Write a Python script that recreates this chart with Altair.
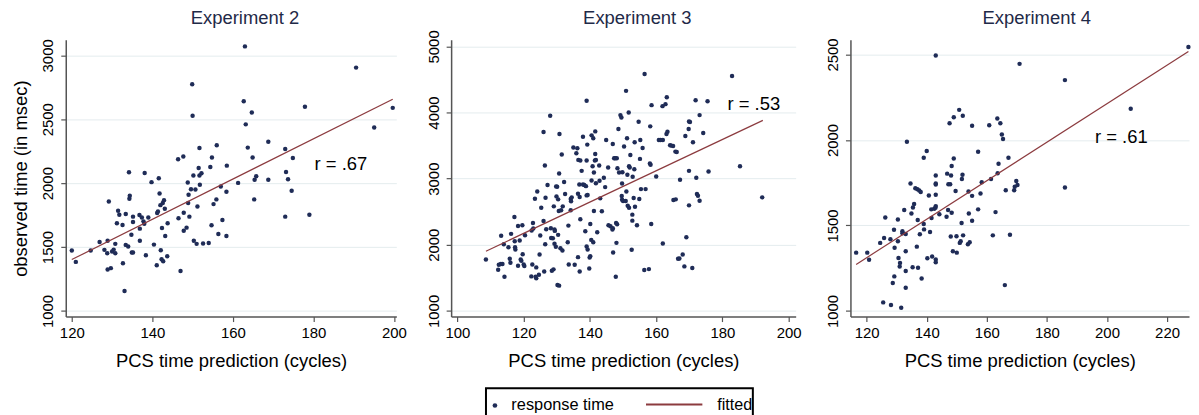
import altair as alt
import pandas as pd

FONT = "Liberation Sans"
NAVY = "#1f2c57"
MAROON = "#8c3b3f"
TITLE_COLOR = "#1f2a48"

# ---------------- Experiment 2 ----------------
exp2_x = [120.0, 121.0, 124.7, 126.9, 128.1, 128.8, 128.9, 129.2, 128.9, 129.7, 130.0, 130.4, 130.8, 130.8,
          131.2, 131.5, 131.8, 132.6, 132.7, 133.1, 133.4, 133.4, 134.0, 134.2, 134.3, 134.4, 134.8, 134.9,
          135.2, 135.2, 135.2, 136.8, 136.9, 136.9, 137.4, 137.8, 138.0, 138.1, 138.4, 139.0, 139.8, 140.4,
          141.1, 141.2, 141.4, 141.6, 141.8, 142.0, 142.1, 142.3, 142.4, 142.6, 142.7, 142.9, 143.1, 143.2,
          143.7, 143.8, 146.4, 146.5, 147.0, 147.7, 147.8, 147.8, 148.5, 148.8, 148.9, 149.0, 149.2, 149.6,
          149.9, 150.0, 150.2, 150.3, 150.7, 151.0, 151.2, 151.5, 151.7, 151.7, 151.8, 152.2, 152.6, 154.0,
          154.4, 154.7, 154.8, 155.2, 155.9, 156.0, 156.4, 157.0, 157.4, 158.4, 158.5, 158.4, 161.3, 162.7,
          163.0, 163.2, 163.7, 164.7, 164.9, 165.3, 165.4, 165.8, 168.8, 168.8, 173.0, 173.0, 173.2, 173.7,
          174.6, 174.9, 177.9, 179.0, 190.6, 195.1, 199.7]
exp2_y = [1473, 1384, 1473, 1540, 1478, 1452, 1550, 1857, 1325, 1335, 1465, 1480, 1525, 1452,
          1686, 1784, 1753, 1673, 1374, 1156, 1758, 1517, 1504, 2086, 1878, 1901, 1597, 1457,
          1457, 1738, 1696, 1750, 1644, 1550, 1732, 1701, 1683, 2080, 1436, 1732, 2008, 1519,
          1358, 1766, 1779, 2039, 1919, 1828, 1475, 1405, 1649, 1844, 1389, 1867, 1800, 1587,
          1428, 1686, 2187, 1725, 1312, 2208, 1769, 1628, 1652, 2005, 1844, 1909, 1738, 1953,
          2774, 2527, 2060, 1550, 1950, 1525, 1818, 2119, 2275, 2060, 1987, 2078, 1527, 1532,
          2127, 1670, 2200, 1836, 1873, 2296, 1602, 1974, 1712, 1932, 2137, 1587, 2002, 2641,
          3070, 2460, 2278, 2553, 2200, 1873, 2026, 2054, 2324, 2026, 2267, 1738, 2088, 2031,
          1940, 2197, 2597, 1753, 2904, 2436, 2589]
fit2_x = [120.0, 199.7]
fit2_y = [1402, 2657]

# ---------------- Experiment 3 ----------------
exp3_x = [108.6, 112.3, 112.5, 113.1, 113.6, 113.2, 114.2, 114.0, 115.4, 115.8, 116.0, 116.2, 117.2, 117.3,
          117.4, 117.5, 118.3, 118.3, 118.8, 119.1, 119.3, 119.6, 119.7, 120.0, 120.2, 120.4, 122.3, 122.4,
          122.8, 122.6, 122.9, 123.6, 123.8, 123.4, 123.8, 124.1, 124.6, 124.8, 125.0, 125.3, 126.0, 126.0,
          126.2, 126.4, 126.6, 126.5, 126.8, 127.2, 128.0, 128.2, 128.3, 128.8, 128.5, 129.0, 129.1, 129.3,
          129.3, 129.7, 129.4, 129.8, 129.9, 130.1, 130.2, 130.4, 130.4, 130.6, 130.7, 130.8, 130.7, 131.1,
          131.3, 131.5, 131.7, 131.8, 132.2, 132.5, 133.3, 133.5, 133.6, 134.2, 134.2, 134.5, 134.3, 135.0,
          135.4, 135.9, 136.2, 136.4, 136.8, 136.4, 136.5, 136.9, 136.9, 137.1, 137.1, 137.5, 137.9, 137.9,
          138.3, 138.6, 138.8, 139.0, 139.3, 139.0, 139.3, 139.0, 139.0, 139.2, 139.8, 139.9, 140.1, 140.1,
          140.4, 140.5, 140.5, 140.8, 141.0, 141.0, 141.2, 141.2, 141.6, 141.6, 141.5, 141.8, 141.8, 142.2,
          142.8, 143.1, 142.9, 143.6, 144.2, 144.6, 144.9, 145.5, 145.6, 146.2, 146.8, 146.9, 146.9, 147.0,
          147.3, 147.6, 147.9, 148.2, 148.0, 147.8, 148.1, 148.3, 148.6, 148.8, 149.2, 149.5, 149.6, 149.7,
          149.7, 150.0, 149.8, 150.3, 150.8, 150.9, 151.0, 151.2, 151.3, 151.4, 151.7, 151.8, 151.8, 152.0,
          152.2, 152.6, 152.8, 152.8, 152.9, 153.2, 153.4, 153.5, 153.6, 154.2, 154.7, 154.9, 155.1, 155.2,
          155.4, 155.9, 156.4, 156.5, 156.8, 157.8, 158.1, 158.3, 158.2, 158.5, 158.6, 160.0, 160.8, 161.3,
          162.0, 161.9, 162.0, 162.8, 163.1, 163.2, 163.4, 164.2, 164.6, 165.1, 165.2, 165.9, 165.8, 166.2,
          166.6, 167.0, 167.2, 168.0, 168.5, 168.8, 169.1, 169.8, 169.9, 170.2, 169.9, 169.9, 170.9, 171.1,
          171.9, 172.1, 172.3, 172.6, 173.1, 173.1, 174.2, 175.5, 175.8, 182.9, 185.3, 192.0]
exp3_y = [1778, 1622, 1698, 1708, 1708, 2135, 1517, 2009, 1964, 1788, 1728, 2165, 2421, 2054,
          1964, 1929, 1683, 2285, 2064, 1778, 1758, 2295, 1858, 1703, 1678, 2145, 1522, 2215,
          2330, 1703, 2245, 1517, 1492, 2697, 1658, 2807, 1547, 1853, 2140, 2561, 2360, 3706,
          1597, 3199, 2712, 2009, 2235, 2903, 3952, 2250, 2104, 2099, 1607, 1628, 2581, 2230,
          2014, 1969, 2210, 2883, 2732, 2878, 1392, 2150, 2687, 2511, 3078, 3676, 1382, 1949,
          2521, 3364, 1914, 2581, 2948, 2767, 2039, 2290, 1703, 2521, 2692, 2717, 2657, 3470,
          1698, 3384, 3460, 2772, 2913, 1813, 3284, 2722, 1597, 2386, 3274, 3118, 3635, 2913,
          2903, 2205, 2887, 1974, 1929, 2747, 2752, 3274, 4177, 3515, 1642, 1808, 1828, 2315,
          2074, 3655, 2973, 3189, 2039, 3610, 2511, 3093, 3715, 3374, 3274, 3284, 2932, 2190,
          3198, 2702, 2968, 2506, 3013, 2872, 3585, 3168, 2295, 2280, 2230, 2250, 3525, 1883,
          3309, 3309, 2330, 2310, 2029, 1517, 3309, 3158, 3751, 3093, 3961, 3926, 2737, 2682,
          2927, 2661, 3098, 3485, 2661, 4328, 2807, 3610, 3058, 2591, 4001, 2561, 3188, 3168,
          3359, 1924, 2365, 2456, 3028, 2707, 3143, 3550, 2576, 2295, 3861, 2692, 3299, 3585,
          2842, 3464, 1617, 4584, 2842, 1632, 3229, 3209, 3791, 2315, 4112, 3033, 3585, 3585,
          3585, 4097, 2019, 4127, 3675, 4232, 3711, 3505, 3500, 3495, 2676, 2687, 3409, 3404,
          1788, 1793, 2983, 1853, 1673, 3645, 2114, 3751, 3866, 3856, 3118, 2596, 1650, 3550,
          4187, 3013, 2767, 2742, 3961, 2667, 3690, 4172, 3108, 4554, 3188, 2717]
fit3_x = [108.6, 192.2]
fit3_y = [1903, 3881]

# ---------------- Experiment 4 ----------------
exp4_x = [116.5, 120.2, 120.8, 124.5, 125.8, 125.5, 126.2, 127.9, 128.1, 128.7, 129.1, 129.2, 129.3, 130.4,
          130.4, 130.6, 131.0, 131.1, 131.5, 131.9, 131.9, 132.5, 133.0, 133.0, 133.0, 133.0, 133.4, 134.6,
          134.9, 135.3, 135.4, 135.8, 136.2, 136.7, 136.9, 137.0, 137.1, 137.5, 137.7, 138.0, 138.3, 139.0,
          139.0, 139.1, 140.7, 140.0, 140.2, 141.1, 141.5, 141.6, 141.8, 142.5, 142.9, 143.0, 143.0, 143.0,
          143.0, 143.0, 143.0, 143.0, 143.0, 144.2, 146.6, 146.8, 147.1, 147.2, 147.6, 147.8, 148.0, 148.1,
          148.3, 148.3, 148.7, 149.0, 149.0, 149.6, 149.9, 150.0, 150.8, 151.0, 151.3, 151.6, 151.7, 151.9,
          152.0, 152.1, 153.7, 153.9, 154.0, 154.3, 155.1, 155.1, 155.1, 157.1, 157.1, 157.9, 158.3, 160.8,
          161.4, 162.0, 162.9, 163.5, 163.6, 163.9, 164.5, 165.0, 165.4, 166.0, 166.3, 167.2, 167.7, 169.1,
          169.3, 169.8, 170.2, 170.9, 186.0, 186.0, 207.9, 227.1]
exp4_y = [1341, 1341, 1299, 1398, 1427, 1050, 1547, 1419, 1035, 1163, 1475, 1202, 1369, 1535,
          1407, 1310, 1260, 1281, 1019, 1466, 1454, 1590, 1450, 1349, 1233, 1136, 1990, 1745,
          1570, 1256, 1605, 1625, 1718, 1376, 1712, 1532, 1252, 1704, 1448, 1696, 1190, 1896,
          1508, 1477, 1675, 1935, 1308, 1462, 1594, 1543, 1318, 1598, 1603, 1792, 1745, 1739,
          1679, 1613, 2494, 1301, 1285, 1566, 1551, 1803, 1590, 1741, 2098, 1741, 1435, 1792,
          1848, 1574, 1349, 2133, 1892, 1702, 1437, 1341, 2176, 1398, 1407, 1514, 1772, 1797,
          2141, 1442, 1390, 1698, 1570, 1402, 2083, 1673, 1528, 1594, 1931, 1687, 1753, 2086,
          1772, 1442, 1578, 2125, 1805, 1861, 2098, 2032, 2005, 1151, 1706, 1896, 1446, 1706,
          1726, 1760, 1737, 2445, 2350, 1722, 2183, 2544]
fit4_x = [116.5, 227.1]
fit4_y = [1272, 2517]

# ---------------- labels ----------------
panel_titles = ["Experiment 2", "Experiment 3", "Experiment 4"]
r_text = ["r = .67", "r = .53", "r = .61"]
r_x = [180.3, 181.5, 196.0]
r_y = [2148, 4127, 2019]
x_ticks = [[120, 140, 160, 180, 200], [100, 120, 140, 160, 180, 200], [120, 140, 160, 180, 200, 220]]
y_ticks = [[1000, 1500, 2000, 2500, 3000], [1000, 2000, 3000, 4000, 5000], [1000, 1500, 2000, 2500]]
x_domains = [[118.5, 200.6], [98.1, 202.1], [114.6, 227.3]]
y_domains = [[956, 3122], [914, 5101], [967, 2586]]
legend_labels = ["response time", "fitted"]
x_title = "PCS time prediction (cycles)"
y_title = "observed time (in msec)"

PANEL_W = [332, 346, 340]
PANEL_H = 278
TITLE_OFFSETS = [-4, -13, -5]
TITLE_DX = [14, 14, 17]


def panel(i, xs, ys, fx, fy, with_ytitle):
    pts = pd.DataFrame({"x": xs, "y": ys})
    fit = pd.DataFrame({"x": fx, "y": fy})
    lab = pd.DataFrame({"x": [r_x[i]], "y": [r_y[i]], "t": [r_text[i]]})
    xscale = alt.Scale(domain=x_domains[i], nice=False, zero=False)
    yscale = alt.Scale(domain=y_domains[i], nice=False, zero=False)
    xaxis = alt.Axis(values=x_ticks[i], format="d", title=x_title)
    if with_ytitle:
        yaxis = alt.Axis(values=y_ticks[i], format="d", title=y_title)
    else:
        yaxis = alt.Axis(values=y_ticks[i], format="d", title=None)

    points = alt.Chart(pts).mark_circle(size=20, color=NAVY, opacity=1).encode(
        x=alt.X("x:Q", scale=xscale, axis=xaxis),
        y=alt.Y("y:Q", scale=yscale, axis=yaxis),
    )
    line = alt.Chart(fit).mark_line(color=MAROON, strokeWidth=1.2).encode(
        x="x:Q", y="y:Q"
    )
    text = alt.Chart(lab).mark_text(
        align="left", baseline="middle", fontSize=18.5, font=FONT, color="black"
    ).encode(x="x:Q", y="y:Q", text="t:N")

    layers = [points, line, text]
    if i == 1:
        box = alt.Chart(pd.DataFrame({"k": [0]})).mark_rect(
            fill="white", stroke="black", strokeWidth=2
        ).encode(x=alt.value(35), x2=alt.value(303), y=alt.value(350), y2=alt.value(386))
        dot = alt.Chart(pd.DataFrame({"k": [0]})).mark_circle(
            size=22, color=NAVY, opacity=1
        ).encode(x=alt.value(44), y=alt.value(367.3))
        t1 = alt.Chart(pd.DataFrame({"t": [legend_labels[0]]})).mark_text(
            align="left", baseline="alphabetic", fontSize=16.4, font=FONT, color="black"
        ).encode(x=alt.value(60.5), y=alt.value(371.5), text="t:N")
        rule = alt.Chart(pd.DataFrame({"k": [0]})).mark_rule(
            color=MAROON, strokeWidth=2
        ).encode(x=alt.value(195.7), x2=alt.value(252.3), y=alt.value(366.3))
        t2 = alt.Chart(pd.DataFrame({"t": [legend_labels[1]]})).mark_text(
            align="left", baseline="alphabetic", fontSize=16.2, font=FONT, color="black"
        ).encode(x=alt.value(267.3), y=alt.value(371.5), text="t:N")
        layers += [box, dot, t1, rule, t2]

    return alt.layer(*layers).properties(
        width=PANEL_W[i],
        height=PANEL_H,
        title=alt.TitleParams(
            text=panel_titles[i], fontSize=18.5, font=FONT, fontWeight="normal",
            color=TITLE_COLOR, anchor="middle", frame="group", dx=TITLE_DX[i],
            baseline="alphabetic", offset=TITLE_OFFSETS[i],
        ),
    )


p1 = panel(0, exp2_x, exp2_y, fit2_x, fit2_y, True)
p2 = panel(1, exp3_x, exp3_y, fit3_x, fit3_y, False)
p3 = panel(2, exp4_x, exp4_y, fit4_x, fit4_y, False)

chart = alt.hconcat(p1, p2, p3, spacing=55, bounds="flush").properties(
    padding={"left": 4, "top": 0, "right": 0, "bottom": 0}
).configure_view(strokeWidth=0).configure_axis(
    labelFont=FONT, labelFontSize=15, labelColor="black",
    titleFont=FONT, titleFontSize=18.5, titleFontWeight="normal", titleColor="black",
    domainColor="#555555", domainWidth=1.5, tickColor="#555555", tickWidth=1.2, tickSize=5,
    gridColor="#e4ecee", gridWidth=1,
).configure_axisX(
    grid=False, labelPadding=4, titlePadding=11,
).configure_axisY(
    grid=True, labelAngle=270, labelAlign="center", labelBaseline="bottom",
    labelPadding=5, titlePadding=10,
)

chart.save("out.html", embed_options={"renderer": "svg", "actions": False})
